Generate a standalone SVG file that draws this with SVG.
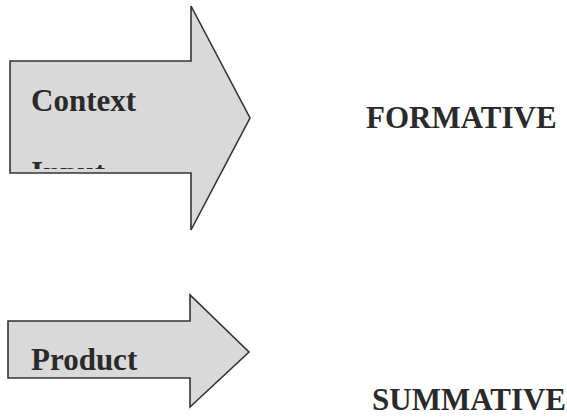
<svg xmlns="http://www.w3.org/2000/svg" width="567" height="418" viewBox="0 0 567 418">
<defs>
<style>
.arrow{fill:#d9d9d9;stroke:#333;stroke-width:1.6;stroke-linejoin:miter}
.lbl{font-family:"Liberation Serif","Times New Roman",serif;font-weight:bold;font-size:31px;fill:#2a2a2a}
</style>
<clipPath id="clip1"><rect x="10" y="60" width="200" height="109"/></clipPath>
</defs>
<rect width="567" height="418" fill="#fff"/>
<g id="arrow-top">
<polygon class="arrow" points="10,61 191,61 191,6 250,118 191,230 191,173 10,173"/>
<text class="lbl" x="31" y="111">Context</text>
<text class="lbl" x="31" y="183" clip-path="url(#clip1)">Input</text>
</g>
<g id="arrow-bottom">
<polygon class="arrow" points="8,321 190,321 190,295 249,352 190,407 190,378 8,378"/>
<text class="lbl" x="31" y="370">Product</text>
</g>
<g id="formative"><text class="lbl" x="366" y="128">FORMATIVE</text></g>
<g id="summative"><text class="lbl" x="372" y="410">SUMMATIVE</text></g>
<g id="connectors"/>
</svg>
